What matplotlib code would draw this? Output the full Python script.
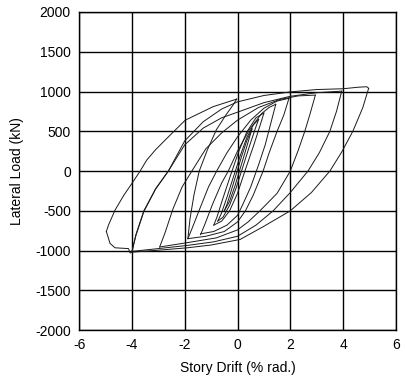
import numpy as np
import matplotlib.pyplot as plt

plt.rcParams['font.family'] = ['Liberation Sans', 'DejaVu Sans']
plt.rcParams['axes.unicode_minus'] = False

c1_up_x = [-0.5, -0.4, -0.25, -0.05, 0.15, 0.35, 0.55]
c1_up_y = [-500, -420, -260, -40, 180, 380, 530]
c1_dn_x = [0.55, 0.45, 0.3, 0.1, -0.1, -0.3, -0.5]
c1_dn_y = [530, 420, 250, 30, -190, -380, -500]

c2_up_x = [-0.75, -0.62, -0.4, -0.15, 0.1, 0.35, 0.6, 0.8]
c2_up_y = [-630, -540, -330, -70, 190, 420, 580, 650]
c2_dn_x = [0.8, 0.68, 0.45, 0.2, -0.05, -0.3, -0.55, -0.75]
c2_dn_y = [650, 540, 310, 50, -210, -430, -580, -630]

c3_up_x = [-0.9, -0.78, -0.55, -0.25, 0.05, 0.35, 0.7, 1.0]
c3_up_y = [-680, -580, -340, -40, 250, 490, 670, 730]
c3_dn_x = [1.0, 0.88, 0.62, 0.3, 0.0, -0.3, -0.6, -0.9]
c3_dn_y = [730, 600, 330, 20, -280, -500, -630, -680]

c4_up_x = [-1.4, -1.25, -0.95, -0.6, -0.35, 0.0, 0.45, 0.92, 1.2, 1.45]
c4_up_y = [-800, -680, -420, -150, 0, 250, 520, 725, 800, 840]
c4_dn_x = [1.45, 1.3, 1.05, 0.8, 0.5, 0.2, 0.0, -0.4, -0.9, -1.4]
c4_dn_y = [840, 650, 330, 80, -200, -420, -557, -680, -760, -790]

c5_up_x = [-1.88, -1.72, -1.4, -1.1, -0.79, -0.4, 0.0, 0.5, 1.0, 1.5, 1.95]
c5_up_y = [-850, -720, -450, -200, 0, 230, 430, 640, 790, 880, 915]
c5_dn_x = [1.95, 1.75, 1.5, 1.2, 0.97, 0.6, 0.3, 0.0, -0.5, -1.2, -1.88]
c5_dn_y = [915, 700, 500, 230, 0, -300, -500, -640, -760, -820, -850]

c6_up_x = [-2.95, -2.75, -2.45, -2.1, -1.73, -1.2, -0.6, 0.0, 0.8, 1.6, 2.3, 2.95]
c6_up_y = [-955, -780, -480, -200, 0, 280, 480, 640, 800, 900, 945, 955]
c6_dn_x = [2.95, 2.75, 2.55, 2.3, 2.0, 1.5, 0.85, 0.4, 0.0, -0.8, -1.9, -2.95]
c6_dn_y = [955, 720, 500, 260, 0, -280, -500, -640, -740, -840, -900, -955]

c7_up_x = [-4.0, -3.85, -3.55, -3.1, -2.62, -2.0, -1.3, -0.6, 0.0, 1.0, 2.0, 3.0, 3.95]
c7_up_y = [-1010, -800, -500, -220, 0, 330, 540, 670, 740, 860, 940, 985, 1005]
c7_dn_x = [3.95, 3.75, 3.5, 3.1, 2.67, 2.0, 1.35, 0.7, 0.0, -0.9, -1.9, -3.0, -4.0]
c7_dn_y = [1005, 750, 500, 230, 0, -270, -500, -680, -820, -890, -935, -975, -1010]

c8_up_x = [-4.0, -3.85, -3.55, -3.1, -2.62, -2.0, -1.3, -0.6, 0.0, 1.0, 2.0, 3.0, 4.0,
           4.3, 4.6, 4.9, 4.97]
c8_up_y = [-1015, -810, -510, -225, 0, 380, 620, 780, 870, 950, 995, 1025, 1035,
           1045, 1055, 1060, 1040]
c8_dn_x = [4.97, 4.95, 4.75, 4.37, 3.95, 3.5, 2.8, 2.0, 0.97, 0.1, -1.0, -1.9, -3.0, -4.0,
           -4.07, -4.13, -4.64, -4.83, -4.97]
c8_dn_y = [1040, 1020, 800, 500, 240, 0, -270, -500, -700, -860, -930, -965, -995, -1020,
           -1030, -975, -965, -910, -760]

c9_up_x = [-4.97, -4.89, -4.64, -4.3, -4.0, -3.69, -3.44, -3.1, -2.68, -1.98, -0.92, -0.03]
c9_up_y = [-760, -680, -490, -300, -155, 0, 138, 270, 410, 640, 810, 905]
c9_dn_x = [-0.03, -0.17, -0.45, -0.8, -1.15, -1.45, -1.65, -1.8, -1.88]
c9_dn_y = [905, 830, 700, 520, 260, 0, -300, -600, -850]

branches = [
    (c1_up_x, c1_up_y), (c1_dn_x, c1_dn_y),
    (c2_up_x, c2_up_y), (c2_dn_x, c2_dn_y),
    (c3_up_x, c3_up_y), (c3_dn_x, c3_dn_y),
    (c4_up_x, c4_up_y), (c4_dn_x, c4_dn_y),
    (c5_up_x, c5_up_y), (c5_dn_x, c5_dn_y),
    (c6_up_x, c6_up_y), (c6_dn_x, c6_dn_y),
    (c7_up_x, c7_up_y), (c7_dn_x, c7_dn_y),
    (c8_up_x, c8_up_y), (c8_dn_x, c8_dn_y),
    (c9_up_x, c9_up_y), (c9_dn_x, c9_dn_y),
]

fig = plt.figure(figsize=(4.06, 3.87), dpi=100)
ax = fig.add_axes([0.195, 0.147, 0.780, 0.822])

for bx, by in branches:
    ax.plot(bx, by, color='#1a1a1a', lw=0.7)

ax.set_xlim(-6, 6)
ax.set_ylim(-2000, 2000)
ax.set_xticks(np.arange(-6, 7, 2))
ax.set_yticks(np.arange(-2000, 2001, 500))
ax.grid(True, color='black', lw=1.0)
ax.set_axisbelow(True)
for s in ax.spines.values():
    s.set_color('black')
    s.set_linewidth(1.0)
ax.tick_params(length=0, labelsize=10, pad=6)

ax.set_xlabel('Story Drift (% rad.)', fontsize=10, labelpad=6)
ax.set_ylabel('Lateral Load (kN)', fontsize=10, labelpad=8)

fig.savefig('out.png', dpi=100)
